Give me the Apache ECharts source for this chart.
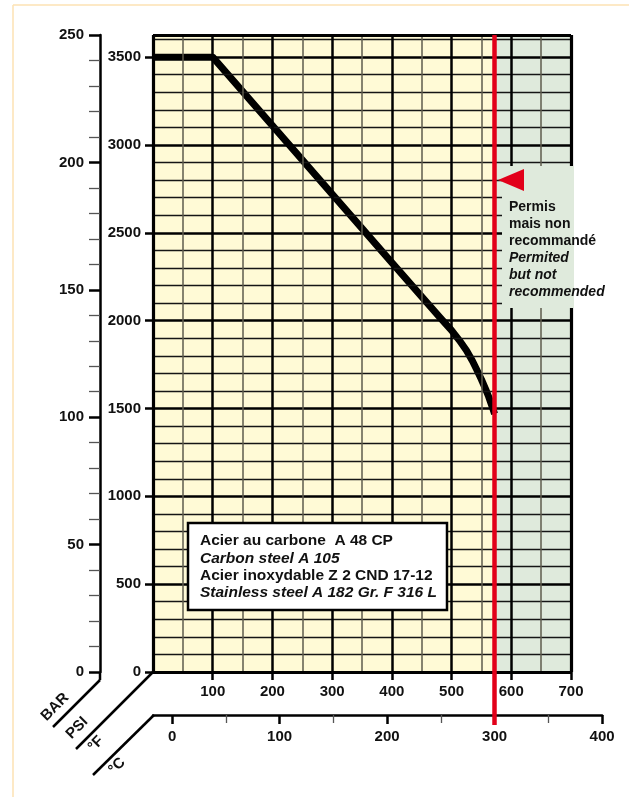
<!DOCTYPE html>
<html><head><meta charset="utf-8">
<script src="https://cdn.jsdelivr.net/npm/echarts@6/dist/echarts.min.js"></script>
<style>html,body{margin:0;padding:0;background:#fff}#c{width:629px;height:797px}</style>
</head><body><div id="c"></div>
<script>
// ---- data ----
const tempF = [0, 100, 200, 300, 400, 480, 500, 513, 525, 535, 542, 550, 557, 562, 566, 569, 572];
const psi   = [3500, 3500, 3110, 2720, 2330, 2020, 1945, 1888, 1830, 1770, 1722, 1665, 1610, 1568, 1530, 1500, 1470];
const psiLabels = [0, 500, 1000, 1500, 2000, 2500, 3000, 3500];
const barLabels = [0, 50, 100, 150, 200, 250];
const fLabels = [100, 200, 300, 400, 500, 600, 700];
const cLabels = [0, 100, 200, 300, 400];
const cMinor = [50, 150, 250, 350];
const limitC = 300;
const limitF = 572;
const legendLines = ['Acier au carbone  A 48 CP', 'Carbon steel A 105', 'Acier inoxydable Z 2 CND 17-12', 'Stainless steel A 182 Gr. F 316 L'];
const legendItalic = [false, true, false, true];
const noteLines = ['Permis', 'mais non', 'recommandé', 'Permited', 'but not', 'recommended'];
const noteItalic = [false, false, false, true, true, true];

const BAR_MAX = 250;
const PSI_MAX = BAR_MAX * 14.5038;
const F_MAX = 700;
const C_MIN = (0 - 32) * 5 / 9;
const C_MAX = 400;

const FONT = '"Liberation Sans", Arial, Helvetica, sans-serif';
const fmt = v => String(Math.round(v));
const lbl = { fontFamily: FONT, fontWeight: 'bold', fontSize: 15, color: '#111', formatter: fmt };

// grid geometry
const G = { left: 153, top: 35, right: 58, bottom: 125 };
const plotW = 629 - G.left - G.right;
const cWidth = plotW * ((C_MAX * 9 / 5 + 32) / F_MAX);

const thick = { type: 'solid', color: '#000', width: 2.5 };
const thin = { type: 'solid', color: '#151515', width: 1.3 };
const thinV = { type: 'solid', color: '#5e5b4c', width: 1.5 };
const border = { type: 'solid', color: '#000', width: 3.2 };

const gridLines = [];
for (let v = 100; v <= 3600; v += 100) gridLines.push({ yAxis: v, lineStyle: v % 500 === 0 ? thick : thin });
for (let v = 50; v < F_MAX; v += 50) gridLines.push({ xAxis: v, lineStyle: v % 100 === 0 ? thick : thinV });
gridLines.push({ yAxis: 0, lineStyle: border }, { yAxis: PSI_MAX, lineStyle: border },
               { xAxis: 0, lineStyle: border }, { xAxis: F_MAX, lineStyle: border });

const chart = echarts.init(document.getElementById('c'), null, { renderer: 'canvas' });

const option = {
  animation: false,
  backgroundColor: '#fff',
  grid: [
    { left: G.left, top: G.top, right: G.right, bottom: G.bottom },
    { left: 100, top: G.top, width: 20, bottom: G.bottom },
    { left: G.left, top: G.top, width: cWidth, bottom: 72 }
  ],
  xAxis: [
    { gridIndex: 0, type: 'value', min: 0, max: F_MAX, position: 'bottom',
      axisLine: { show: false },
      axisTick: { show: true, customValues: fLabels, length: 8, lineStyle: { color: '#000', width: 2.5 } },
      axisLabel: Object.assign({ customValues: fLabels, margin: 12 }, lbl),
      splitLine: { show: false } },
    { gridIndex: 1, type: 'value', min: 0, max: 1, show: false },
    { gridIndex: 2, type: 'value', min: C_MIN, max: C_MAX, position: 'bottom', offset: -10,
      axisLine: { show: true, lineStyle: { color: '#000', width: 2.5 } },
      axisTick: { show: true, customValues: cLabels, length: 9, lineStyle: { color: '#000', width: 2.5 } },
      axisLabel: Object.assign({ customValues: cLabels, margin: 14 }, lbl),
      splitLine: { show: false } },
    { gridIndex: 2, type: 'value', min: C_MIN, max: C_MAX, position: 'bottom', offset: -10,
      axisLine: { show: false },
      axisTick: { show: true, customValues: cMinor, length: 8, lineStyle: { color: '#555', width: 1.3 } },
      axisLabel: { show: false },
      splitLine: { show: false } }
  ],
  yAxis: [
    { gridIndex: 0, type: 'value', min: 0, max: PSI_MAX,
      axisLine: { show: false },
      axisTick: { show: true, customValues: psiLabels, length: 8, lineStyle: { color: '#000', width: 2.5 } },
      axisLabel: Object.assign({ customValues: psiLabels, margin: 12 }, lbl),
      splitLine: { show: false } },
    { gridIndex: 1, type: 'value', min: 0, max: BAR_MAX, interval: 50, position: 'left',
      axisLine: { show: true, lineStyle: { color: '#000', width: 2.5 } },
      axisTick: { show: true, customValues: barLabels, length: 11, lineStyle: { color: '#000', width: 2.5 } },
      minorTick: { show: true, splitNumber: 5, length: 11, lineStyle: { color: '#555', width: 1.3 } },
      axisLabel: Object.assign({ customValues: barLabels, margin: 16 }, lbl),
      splitLine: { show: false }, minorSplitLine: { show: false } },
    { gridIndex: 2, type: 'value', min: 0, max: 1, show: false }
  ],
  series: [
    { type: 'line', xAxisIndex: 0, yAxisIndex: 0, data: [], z: 1, silent: true,
      markArea: { silent: true, label: { show: false },
        data: [
          [{ xAxis: 0, yAxis: 0, itemStyle: { color: '#fffad6' } }, { xAxis: limitF, yAxis: PSI_MAX }],
          [{ xAxis: limitF, yAxis: 0, itemStyle: { color: '#dfeadc' } }, { xAxis: F_MAX, yAxis: PSI_MAX }]
        ] } },
    { type: 'line', xAxisIndex: 0, yAxisIndex: 0, data: [], z: 2, silent: true,
      markLine: { silent: true, symbol: 'none', label: { show: false }, lineStyle: { type: 'solid' },
        emphasis: { disabled: true }, data: gridLines } },
    { type: 'line', xAxisIndex: 2, yAxisIndex: 2, data: [], z: 3, silent: true,
      markLine: { silent: true, symbol: 'none', label: { show: false }, emphasis: { disabled: true },
        lineStyle: { type: 'solid', color: '#e2001a', width: 4.5 },
        data: [{ xAxis: limitC }] } },
    { type: 'line', xAxisIndex: 0, yAxisIndex: 0, z: 4, silent: true,
      data: tempF.map((t, i) => [t, psi[i]]),
      showSymbol: false, symbol: 'none',
      lineStyle: { color: '#000', width: 7, join: 'round', cap: 'butt' } }
  ]
};
chart.setOption(option);

// decorative graphics
const o = chart.convertToPixel({ gridIndex: 0 }, [0, 0]);      // plot origin
const barX = 100;
const cY = o[1] + 43;
const g = [];
const seg = (x1, y1, x2, y2, w, c) => g.push({ type: 'line', z: 50, silent: true,
  shape: { x1, y1, x2, y2 }, style: { stroke: c || '#000', lineWidth: w || 2.5 } });
// frame
seg(13, 5, 629, 5, 1.5, '#fde2b3');
seg(13, 5, 13, 797, 1.5, '#fde2b3');
// BAR axis extension + diagonal
seg(barX, o[1], barX, o[1] + 8);
seg(barX, o[1] + 8, barX - 47, o[1] + 55);
// PSI / F diagonal
seg(o[0], o[1], o[0] - 77, o[1] + 77);
// C diagonal
seg(o[0] + 1, cY, o[0] - 60, cY + 60);
const rot = (t, x, y) => g.push({ type: 'text', z: 50, silent: true, x, y, rotation: Math.PI / 4,
  style: { text: t, font: 'bold 15px ' + FONT, fill: '#111', align: 'center', verticalAlign: 'middle' } });
rot('BAR', 55, 707);
rot('PSI', 77, 728);
rot('°F', 96, 744);
rot('°C', 117, 766);

// legend box
g.push({ type: 'rect', z: 60, silent: true, shape: { x: 188, y: 523, width: 259, height: 87 },
  style: { fill: '#fff', stroke: '#000', lineWidth: 2.5 } });
legendLines.forEach((t, i) => g.push({ type: 'text', z: 61, silent: true, x: 200, y: 541 + i * 17.4,
  style: { text: t, font: (legendItalic[i] ? 'italic ' : '') + 'bold 15.5px ' + FONT, fill: '#111', align: 'left', verticalAlign: 'middle' } }));

// annotation box
g.push({ type: 'rect', z: 60, silent: true, shape: { x: 502, y: 166, width: 72, height: 142 },
  style: { fill: '#dfeadc' } });
g.push({ type: 'polygon', z: 62, silent: true, shape: { points: [[498, 180], [524, 169], [524, 191]] },
  style: { fill: '#e2001a' } });
noteLines.forEach((t, i) => g.push({ type: 'text', z: 61, silent: true, x: 509, y: 207 + i * 17,
  style: { text: t, font: (noteItalic[i] ? 'italic ' : '') + 'bold 14px ' + FONT, fill: '#111', align: 'left', verticalAlign: 'middle' } }));

chart.setOption({ graphic: g });
</script></body></html>
